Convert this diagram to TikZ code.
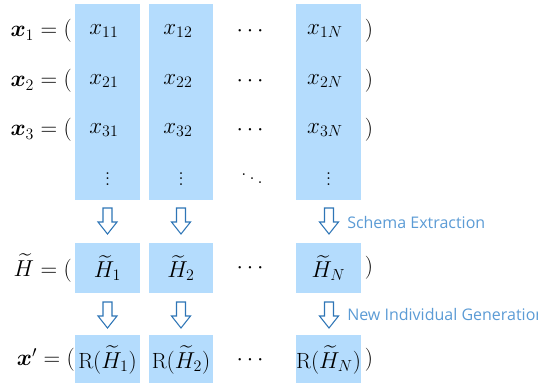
\documentclass[tikz,border=0pt]{standalone}
\definecolor{colfill}{RGB}{180,220,253}
\definecolor{arrowblue}{RGB}{46,117,182}
\definecolor{labelblue}{RGB}{91,155,213}
\usepackage{amsmath,amssymb}
\usepackage{fontspec}
\setsansfont{Open Sans}
\usepackage{tikz}
\usetikzlibrary{positioning}

\tikzset{
  entry/.style={font=\fontsize{16.5}{19}\selectfont,inner sep=0pt},
  steplabel/.style={font=\sffamily\fontsize{12}{14}\selectfont,text=labelblue,anchor=west,inner sep=0pt},
  downarrow/.pic={\draw[arrowblue,fill=white,line width=0.8pt,line join=miter]
    (-4.5,-13) -- (4.5,-13) -- (4.5,1) -- (9.5,1) -- (0,13) -- (-9.5,1) -- (-4.5,1) -- cycle;}
}

\begin{document}
\begin{tikzpicture}[x=0.75pt,y=-0.75pt]
        \useasboundingbox (0,0) rectangle (538,383);
        % blue columns
        \foreach \xa/\xb in {75/140,149/213,296/361} {
          \fill[colfill] (\xa,4) rectangle (\xb,200);
          \fill[colfill] (\xa,243) rectangle (\xb,293);
          \fill[colfill] (\xa,335) rectangle (\xb,383);
        }
        % individuals
        \foreach \r/\y in {1/31,2/81,3/130} {
          \node[entry,anchor=east] (lab\r) at (72,\y) {$\boldsymbol{x}_{\r} = ($};
          \node[entry] (x\r a) at (104,\y) {$x_{\r 1}$};
          \node[entry] (x\r b) at (178,\y) {$x_{\r 2}$};
          \node[entry] (x\r c) at (252,\y) {$\cdots$};
          \node[entry] (x\r n) at (325,\y) {$x_{\r N}$};
          \node[entry] (rp\r) at (369,\y) {$)$};
        }
        \node[entry] (va) at (107.5,175) {$\vdots$};
        \node[entry] (vb) at (181,175) {$\vdots$};
        \node[entry] (vc) at (252,175) {$\ddots$};
        \node[entry] (vn) at (328.5,175) {$\vdots$};
        % schemata
        \node[entry,anchor=east] (labh) at (72,268) {$\widetilde{H} = ($};
        \node[entry] (ha) at (107.5,268) {$\widetilde{H}_1$};
        \node[entry] (hb) at (181,268) {$\widetilde{H}_2$};
        \node[entry] (hc) at (252,268) {$\cdots$};
        \node[entry] (hn) at (328.5,268) {$\widetilde{H}_N$};
        \node[entry] (rph) at (369,268) {$)$};
        % new individual
        \node[entry,anchor=east] (labr) at (75,360) {$\boldsymbol{x}' = ($};
        \node[entry] (ra) at (107.5,360) {$\mathrm{R}(\widetilde{H}_1)$};
        \node[entry] (rb) at (181,360) {$\mathrm{R}(\widetilde{H}_2)$};
        \node[entry] (rc) at (252,360) {$\cdots$};
        \node[entry] (rn) at (328.5,360) {$\mathrm{R}(\widetilde{H}_N)$};
        \node[entry] (rpr) at (369,360) {$)$};
        % arrows
        \foreach \xc in {107.5,181,329} {
          \pic at (\xc,221) {downarrow};
          \pic at (\xc,315) {downarrow};
        }
        \node[steplabel] (schema) at (347,222) {Schema Extraction};
        \node[steplabel] (newind) at (347,314) {New Individual Generation};
      \end{tikzpicture}
\end{document}
